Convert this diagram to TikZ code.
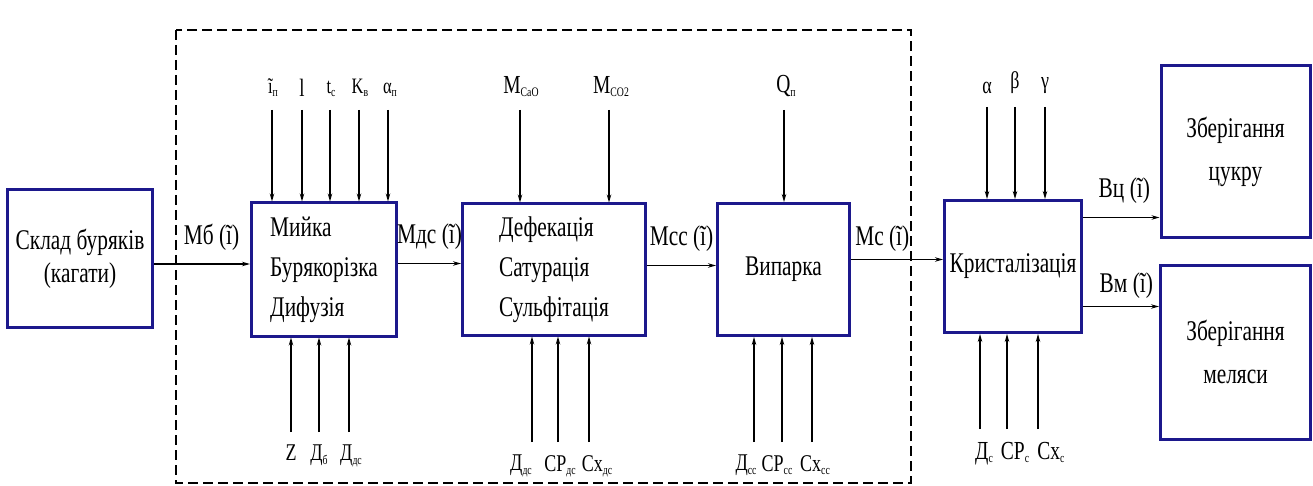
\documentclass[tikz,border=0pt]{standalone}
\usepackage{fontspec}
\setmainfont{Liberation Serif}[FakeStretch=0.75]
\usepackage{xcolor}
\usepackage{tikz}
\usetikzlibrary{arrows.meta, positioning}

\definecolor{boxblue}{RGB}{28,24,140}
\newcommand{\lsub}[1]{\raisebox{-0.3ex}{\fontsize{13}{13}\selectfont #1}}

\begin{document}
\begin{tikzpicture}[x=1pt, y=1pt,
    box/.style={rectangle, draw=boxblue, line width=3pt, inner sep=2pt, align=center, font=\fontsize{28.5}{40}\selectfont},
    flow/.style={-{Stealth[length=8pt,width=4.5pt]}, line width=1.2pt},
    inarr/.style={flow, shorten <=13pt},
    flowlbl/.style={above=12pt, inner sep=1pt, font=\fontsize{28.5}{30}\selectfont},
    lbl/.style={inner sep=0pt, font=\fontsize{24}{26}\selectfont},
    toplbl/.style={lbl, anchor=south},
    botlbl/.style={lbl, anchor=north}]
    \useasboundingbox (0,0) rectangle (1313,485);
    \draw[line width=1.3pt, dash pattern=on 10pt off 5pt] (176,455) rectangle (911,2);

    % main chain
    \node (sklad) [box, minimum width=145pt, minimum height=137pt, font=\fontsize{28.5}{33}\selectfont] at (80,226.5) {Склад буряків\\(кагати)};
    \node (myika) [box, align=left, minimum width=145pt, minimum height=133pt, right=96pt of sklad, yshift=-11pt] {Мийка\\Бурякорізка\\Дифузія};
    \node (defek) [box, align=left, minimum width=183pt, minimum height=131pt, right=63pt of myika] {Дефекація\\Сатурація\\Сульфітація};
    \node (vyp) [box, minimum width=132pt, minimum height=132pt, right=69pt of defek] {Випарка};
    \node (kryst) [box, minimum width=137pt, minimum height=132pt, right=92pt of vyp, yshift=3pt] {Кристалізація};
    \node (zbSugar) [box, minimum width=149pt, minimum height=172pt, font=\fontsize{28.5}{43}\selectfont] at (1235.5,333) {Зберігання\\цукру};
    \node (zbMol) [box, minimum width=150pt, minimum height=174pt, font=\fontsize{28.5}{43}\selectfont, below=24pt of zbSugar] {Зберігання\\меляси};

    \draw[flow] ([yshift=-5.5pt]sklad.east) -- node[flowlbl, pos=0.6] {Мб (ĩ)} ([yshift=-5.5pt]sklad.east -| myika.west);
    \draw[flow] ([yshift=6pt]myika.east) -- node[flowlbl] {Мдс (ĩ)} ([yshift=6pt]defek.west);
    \draw[flow] ([yshift=4pt]defek.east) -- node[flowlbl] {Мсс (ĩ)} ([yshift=4pt]vyp.west);
    \draw[flow] ([yshift=10pt]vyp.east) -- node[flowlbl, above=6pt, pos=0.34] {Мс (ĩ)} ([yshift=10pt]vyp.east -| kryst.west);
    \draw[flow] ([yshift=49pt]kryst.east) -- node[flowlbl, pos=0.54] {Вц (ĩ)} ([yshift=49pt]kryst.east -| zbSugar.west);
    \draw[flow] ([yshift=-40pt]kryst.east) -- node[flowlbl, above=6pt, pos=0.57] {Вм (ĩ)} ([yshift=-40pt]kryst.east -| zbMol.west);

    % inputs of washing / diffusion
    \node (tI) [toplbl, font=\fontsize{22}{24}\selectfont] at (273,388) {ĩ\lsub{п}};
    \node (tL) [toplbl, font=\fontsize{25}{24}\selectfont] at (302,388) {l};
    \node (tTc) [toplbl, font=\fontsize{22}{24}\selectfont] at (331,388) {t\lsub{с}};
    \node (tKv) [toplbl, font=\fontsize{22}{24}\selectfont] at (360,388) {K\lsub{в}};
    \node (tAp) [toplbl, font=\fontsize{22}{24}\selectfont] at (390,388) {α\lsub{п}};
    \draw[inarr] ([xshift=-1pt]tI.south) -- ([xshift=-1pt]tI.south |- myika.north);
    \draw[inarr] (tL.south) -- (tL.south |- myika.north);
    \draw[inarr] ([xshift=-1pt]tTc.south) -- ([xshift=-1pt]tTc.south |- myika.north);
    \draw[inarr] ([xshift=-1pt]tKv.south) -- ([xshift=-1pt]tKv.south |- myika.north);
    \draw[inarr] ([xshift=-2pt]tAp.south) -- ([xshift=-2pt]tAp.south |- myika.north);

    \node (bZ) [botlbl] at (291,40) {Z};
    \node (bDb) [botlbl] at (319,40) {Д\lsub{б}};
    \node (bDds) [botlbl] at (351,40) {Д\lsub{дс}};
    \draw[inarr] (bZ.north) -- (bZ.north |- myika.south);
    \draw[inarr] (bDb.north) -- (bDb.north |- myika.south);
    \draw[inarr] ([xshift=-2pt]bDds.north) -- ([xshift=-2pt]bDds.north |- myika.south);

    % inputs of defecation / saturation
    \node (tCaO) [toplbl, font=\fontsize{26}{28}\selectfont] at (521,388) {M\lsub{CaO}};
    \node (tCOt) [toplbl, font=\fontsize{26}{28}\selectfont] at (611,388) {M\lsub{CO2}};
    \draw[inarr] ([xshift=-1pt]tCaO.south) -- ([xshift=-1pt]tCaO.south |- defek.north);
    \draw[inarr] ([xshift=-2pt]tCOt.south) -- ([xshift=-2pt]tCOt.south |- defek.north);

    \node (dD) [botlbl] at (521,30) {Д\lsub{дс}};
    \node (dSR) [botlbl] at (560,30) {СР\lsub{дс}};
    \node (dSx) [botlbl] at (597,30) {Сх\lsub{дс}};
    \draw[inarr] ([xshift=11pt]dD.north) -- ([xshift=11pt]dD.north |- defek.south);
    \draw[inarr] ([xshift=-2pt]dSR.north) -- ([xshift=-2pt]dSR.north |- defek.south);
    \draw[inarr] ([xshift=-8pt]dSx.north) -- ([xshift=-8pt]dSx.north |- defek.south);

    % inputs of evaporation
    \node (tQ) [toplbl, font=\fontsize{26}{28}\selectfont] at (786,388) {Q\lsub{п}};
    \draw[inarr] ([xshift=-2pt]tQ.south) -- ([xshift=-2pt]tQ.south |- vyp.north);

    \node (vD) [botlbl] at (746,30) {Д\lsub{сс}};
    \node (vSR) [botlbl] at (777,30) {СР\lsub{сс}};
    \node (vSx) [botlbl] at (815,30) {Сх\lsub{сс}};
    \draw[inarr] ([xshift=8pt]vD.north) -- ([xshift=8pt]vD.north |- vyp.south);
    \draw[inarr] ([xshift=5pt]vSR.north) -- ([xshift=5pt]vSR.north |- vyp.south);
    \draw[inarr] ([xshift=-3pt]vSx.north) -- ([xshift=-3pt]vSx.north |- vyp.south);

    % inputs of crystallisation
    \node (tAl) [toplbl] at (987,391) {α};
    \node (tBe) [toplbl] at (1015,391) {β};
    \node (tGa) [toplbl] at (1045,391) {γ};
    \draw[inarr] (tAl.south) -- (tAl.south |- kryst.north);
    \draw[inarr] (tBe.south) -- (tBe.south |- kryst.north);
    \draw[inarr] (tGa.south) -- (tGa.south |- kryst.north);

    \node (kD) [botlbl, font=\fontsize{26}{28}\selectfont] at (984,43) {Д\lsub{с}};
    \node (kSR) [botlbl, font=\fontsize{26}{28}\selectfont] at (1015,43) {СР\lsub{с}};
    \node (kSx) [botlbl, font=\fontsize{26}{28}\selectfont] at (1051,43) {Сх\lsub{с}};
    \draw[inarr] ([xshift=-4pt]kD.north) -- ([xshift=-4pt]kD.north |- kryst.south);
    \draw[inarr] ([xshift=-8pt]kSR.north) -- ([xshift=-8pt]kSR.north |- kryst.south);
    \draw[inarr] ([xshift=-13pt]kSx.north) -- ([xshift=-13pt]kSx.north |- kryst.south);
\end{tikzpicture}
\end{document}
